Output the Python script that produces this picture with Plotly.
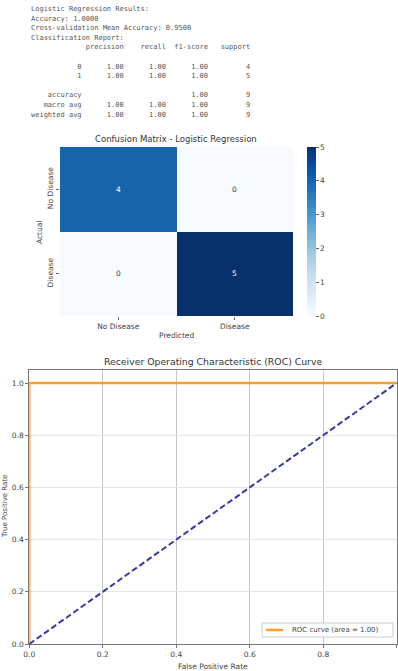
import plotly.graph_objects as go

# ---- data ----
model_name = "Logistic Regression"
accuracy = 1.0
cv_mean_accuracy = 0.95
report_labels = ["0", "1"]
report_precision = [1.00, 1.00]
report_recall = [1.00, 1.00]
report_f1 = [1.00, 1.00]
report_support = [4, 5]
macro_avg = [1.00, 1.00, 1.00]
weighted_avg = [1.00, 1.00, 1.00]

class_names = ["No Disease", "Disease"]
confusion = [[4, 0],
             [0, 5]]

fpr = [0.0, 0.0, 1.0]
tpr = [0.0, 1.0, 1.0]
chance_x = [0.0, 1.0]
chance_y = [0.0, 1.0]
roc_auc = 1.00

W, H = 398, 671
ROC_COLOR = "#ff9f2a"


def fx(px):
    return px / W


def fy(py):
    return 1 - py / H


# ---- printed report (sklearn style) ----
total = sum(report_support)
lines = [
    f"{model_name} Results:",
    f"Accuracy: {accuracy:.4f}",
    f"Cross-validation Mean Accuracy: {cv_mean_accuracy:.4f}",
    "Classification Report:",
    f"{'':>12} {'precision':>9} {'recall':>9} {'f1-score':>9} {'support':>9}",
    "",
]
for lab, p, r, f, s in zip(report_labels, report_precision, report_recall, report_f1, report_support):
    lines.append(f"{lab:>12} {p:>9.2f} {r:>9.2f} {f:>9.2f} {s:>9d}")
lines.append("")
lines.append(f"{'accuracy':>12} {'':>9} {'':>9} {accuracy:>9.2f} {total:>9d}")
lines.append(f"{'macro avg':>12} {macro_avg[0]:>9.2f} {macro_avg[1]:>9.2f} {macro_avg[2]:>9.2f} {total:>9d}")
lines.append(f"{'weighted avg':>12} {weighted_avg[0]:>9.2f} {weighted_avg[1]:>9.2f} {weighted_avg[2]:>9.2f} {total:>9d}")

annotations = []
for i, ln in enumerate(lines):
    if not ln:
        continue
    annotations.append(dict(
        text=ln.replace(" ", "\u00a0"), xref="paper", yref="paper",
        x=fx(29), y=fy(9 + 9.6 * i), xanchor="left", yanchor="middle",
        showarrow=False, font=dict(family="DejaVu Sans Mono", size=7, color="#555"),
    ))

# ---- matplotlib "Blues" colormap ----
blues = ["#f7fbff", "#deebf7", "#c6dbef", "#9ecae1", "#6baed6",
         "#4292c6", "#2171b5", "#08519c", "#08306b"]
blues_scale = [[i / (len(blues) - 1), c] for i, c in enumerate(blues)]

fig = go.Figure()

fig.add_trace(go.Heatmap(
    z=confusion, x=class_names, y=class_names,
    colorscale=blues_scale, zmin=0, zmax=5,
    xaxis="x", yaxis="y", xgap=0, ygap=0, showscale=True,
    colorbar=dict(
        x=fx(307), xanchor="left", thickness=9,
        y=fy(316), yanchor="bottom", len=(316 - 147) / H, lenmode="fraction",
        tickvals=[0, 1, 2, 3, 4, 5], ticks="outside", ticklen=3, tickcolor="#666",
        tickfont=dict(family="DejaVu Sans", size=7.5, color="#444"),
        outlinewidth=0, xpad=0, ypad=0,
    ),
    hoverinfo="skip",
))

zmax = 5
for r, row in enumerate(confusion):
    for c, v in enumerate(row):
        annotations.append(dict(
            text=str(v), x=class_names[c], y=class_names[r], xref="x", yref="y",
            showarrow=False,
            font=dict(family="DejaVu Sans", size=7.5, color="white" if v > zmax / 2 else "#333"),
        ))

# ---- ROC curve ----
fig.add_trace(go.Scatter(
    x=fpr, y=tpr, mode="lines", xaxis="x2", yaxis="y2",
    line=dict(color=ROC_COLOR, width=2.5),
    name=f"ROC curve (area = {roc_auc:.2f})", showlegend=False,
))
fig.add_trace(go.Scatter(
    x=chance_x, y=chance_y, mode="lines", xaxis="x2", yaxis="y2",
    line=dict(color="#3a3aa0", width=2, dash="6px,3px"),
    showlegend=False,
))

label_font = dict(family="DejaVu Sans", size=7.5, color="#444")

annotations += [
    dict(text="Confusion Matrix - Logistic Regression", xref="paper", yref="paper",
         x=fx(176), y=fy(139), xanchor="center", yanchor="middle", showarrow=False,
         font=dict(family="DejaVu Sans", size=8.5, color="#333")),
    dict(text="Predicted", xref="paper", yref="paper",
         x=fx(176), y=fy(335), xanchor="center", yanchor="middle", showarrow=False,
         font=label_font),
    dict(text="Actual", xref="paper", yref="paper", textangle=-90,
         x=fx(39), y=fy(232), xanchor="center", yanchor="middle", showarrow=False,
         font=label_font),
    dict(text="Receiver Operating Characteristic (ROC) Curve", xref="paper", yref="paper",
         x=fx(213), y=fy(361), xanchor="center", yanchor="middle", showarrow=False,
         font=dict(family="DejaVu Sans", size=9.3, color="#333")),
    dict(text="False Positive Rate", xref="paper", yref="paper",
         x=fx(213), y=fy(666), xanchor="center", yanchor="middle", showarrow=False,
         font=label_font),
    dict(text="True Positive Rate", xref="paper", yref="paper", textangle=-90,
         x=fx(5), y=fy(507), xanchor="center", yanchor="middle", showarrow=False,
         font=dict(family="DejaVu Sans", size=7, color="#444")),
    # compact legend entry, lower right
    dict(text=f"ROC curve (area = {roc_auc:.2f})", xref="paper", yref="paper",
         x=fx(290), y=fy(630), xanchor="left", yanchor="middle", showarrow=False,
         font=dict(family="DejaVu Sans", size=7, color="#444")),
]

shapes = [
    dict(type="rect", xref="paper", yref="paper", layer="above",
         x0=fx(262), x1=fx(393), y0=fy(637), y1=fy(623),
         fillcolor="white", line=dict(color="#cccccc", width=1)),
    dict(type="line", xref="paper", yref="paper", layer="above",
         x0=fx(266), x1=fx(283), y0=fy(630), y1=fy(630),
         line=dict(color=ROC_COLOR, width=2.5)),
]

fig.update_layout(
    width=W, height=H, margin=dict(l=0, r=0, t=0, b=0, autoexpand=False),
    paper_bgcolor="white", plot_bgcolor="white",
    showlegend=False,
    annotations=annotations,
    shapes=shapes,
    xaxis=dict(
        domain=[fx(60), fx(293)], anchor="y", range=[-0.5, 1.5], automargin=False,
        showgrid=False, zeroline=False, showline=False,
        ticks="outside", ticklen=3, tickcolor="#666", tickfont=label_font,
    ),
    yaxis=dict(
        domain=[fy(316), fy(147)], anchor="x", range=[1.5, -0.5], automargin=False,
        showgrid=False, zeroline=False, showline=False,
        ticks="outside", ticklen=3, tickcolor="#666", tickfont=label_font,
        tickangle=-90,
    ),
    xaxis2=dict(
        domain=[fx(29.3), fx(396.7)], anchor="y2", range=[0, 1], automargin=False,
        tickvals=[0, 0.2, 0.4, 0.6, 0.8, 1.0], tickformat=".1f",
        showgrid=True, gridcolor="#c4c4c4", gridwidth=1, zeroline=False,
        showline=True, linecolor="#777", linewidth=1, mirror=True,
        ticks="outside", ticklen=3, tickcolor="#777", tickfont=label_font,
    ),
    yaxis2=dict(
        domain=[fy(644), fy(370)], anchor="x2", range=[0, 1.05], automargin=False,
        tickvals=[0, 0.2, 0.4, 0.6, 0.8, 1.0], tickformat=".1f",
        showgrid=True, gridcolor="#e6e6e6", gridwidth=1, zeroline=False,
        showline=True, linecolor="#777", linewidth=1, mirror=True,
        ticks="outside", ticklen=3, tickcolor="#777", tickfont=label_font,
    ),
)

fig.write_html("out.html")
